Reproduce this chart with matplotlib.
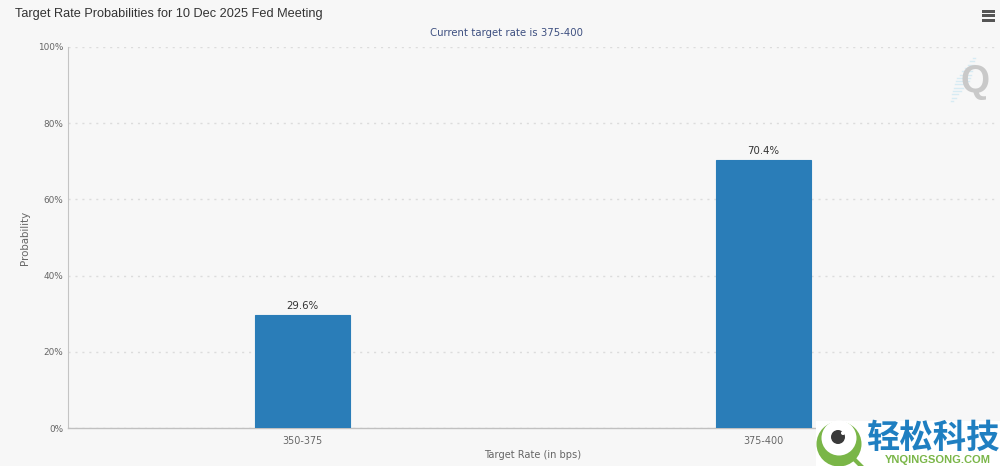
import matplotlib
matplotlib.use('Agg')
import matplotlib.pyplot as plt
from matplotlib.patches import Circle, Rectangle

plt.rcParams['font.family'] = ['Liberation Sans', 'DejaVu Sans']

categories = ['350-375', '375-400']
probabilities = [29.6, 70.4]
y_ticks = [0, 20, 40, 60, 80, 100]

W, H = 1000, 466
BG = '#f7f7f7'

fig = plt.figure(figsize=(W / 100, H / 100), dpi=100, facecolor=BG)

# оси заданы в пикселях исходной картинки
left, right, top, bottom = 68, 995, 47, 428
ax = fig.add_axes([left / W, 1 - bottom / H, (right - left) / W, (bottom - top) / H])
ax.set_facecolor(BG)
ax.set_xlim(-0.508, 1.503)
ax.set_ylim(0, 100)

x = range(len(categories))
ax.bar(x, probabilities, width=0.206, color='#2a7db8', edgecolor='#2a7db8',
       linewidth=0.8, zorder=3)
for xi, v in zip(x, probabilities):
    ax.text(xi, v + 1.1, f'{v}%', ha='center', va='bottom', fontsize=7.3,
            color='#333333', family='DejaVu Sans', zorder=4)

ax.set_xticks(list(x), categories)
ax.set_yticks(y_ticks, [f'{t}%' for t in y_ticks])
ax.grid(axis='y', color='#dcdcdc', linestyle=(0, (1.5, 3.5)), linewidth=1, zorder=0)
ax.tick_params(axis='x', length=0, pad=5.5, labelsize=6.9, labelcolor='#666666')
ax.tick_params(axis='y', length=0, pad=3.5, labelsize=6.4, labelcolor='#666666')
for lab in ax.get_xticklabels() + ax.get_yticklabels():
    lab.set_family('DejaVu Sans')
for s in ['top', 'right']:
    ax.spines[s].set_visible(False)
ax.spines['left'].set_color('#c4c4c4')
ax.spines['left'].set_linewidth(0.8)
ax.spines['bottom'].set_color('#c0c0c0')
ax.spines['bottom'].set_linewidth(1)

ax.set_xlabel('Target Rate (in bps)', fontsize=7.1, color='#666666', family='DejaVu Sans')
ax.xaxis.set_label_coords((533 - left) / (right - left), -(455 - bottom) / (bottom - top))
ax.set_ylabel('Probability', fontsize=7.4, color='#666666', family='DejaVu Sans')
ax.yaxis.set_label_coords((25 - left) / (right - left), 0.5)
ax.yaxis.label.set_va('center')
ax.xaxis.label.set_va('center')

# заголовки
fig.text(15 / W, 1 - 14 / H, 'Target Rate Probabilities for 10 Dec 2025 Fed Meeting',
         fontsize=9.15, color='#333333', va='center')
fig.text(507 / W, 1 - 32.5 / H, 'Current target rate is 375-400', fontsize=7.25,
         color='#3d4f80', ha='center', va='center', family='DejaVu Sans')

# наложения поверх всей картинки, координаты в пикселях (y вниз)
ov = fig.add_axes([0, 0, 1, 1], zorder=10)
ov.set_xlim(0, W)
ov.set_ylim(H, 0)
ov.axis('off')
ov.patch.set_alpha(0)

# меню-гамбургер
for y0 in (10, 14.3, 18.6):
    ov.add_patch(Rectangle((982, y0), 13, 3, color='#555555', lw=0))

# водяной знак Q: косые голубые полоски и буква
for i in range(14):
    y0 = 58 + i * 3.3
    cx = 974 - i * 1.7
    half = 7 - abs(i - 6.5) * 0.9
    ov.plot([cx - half, cx + half], [y0, y0], color='#cfe8f3', lw=1, alpha=0.8)
ov.text(975, 82, 'Q', fontsize=27, fontweight='bold', color='#c9c9c9', ha='center', va='center')

# логотип
ov.add_patch(Rectangle((816, 421), 184, 45, color='white', lw=0))
ov.add_patch(Circle((839, 444), 22.5, color='#7ab648', lw=0))
ov.plot([853, 861], [458, 466], color='#7ab648', lw=3)
ov.add_patch(Circle((839, 438), 17.5, color='white', lw=0))
ov.add_patch(Circle((838, 437), 7, color='#3a3a3a', lw=0))
ov.add_patch(Circle((843, 433), 2, color='white', lw=0))
ov.text(933, 438, '轻松科技', fontsize=24, fontweight='bold', color='#1f7fc1', ha='center',
        va='center', family=['Noto Sans CJK SC', 'DejaVu Sans'])
ov.text(938, 460, 'YNQINGSONG.COM', fontsize=8, fontweight='bold', color='#7ab648',
        ha='center', va='center')

fig.savefig('out.png', dpi=100, facecolor=BG)
